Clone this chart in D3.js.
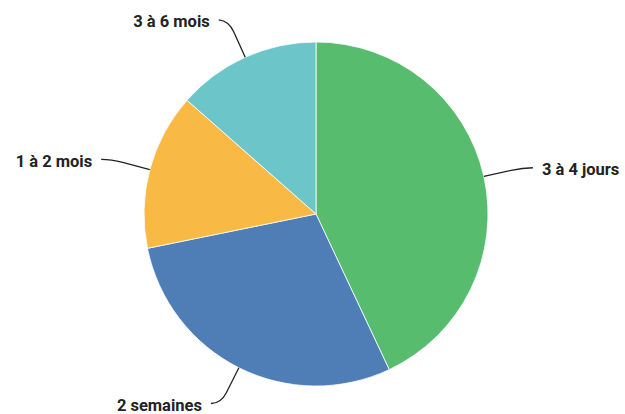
<!DOCTYPE html>
<html><head><meta charset="utf-8">
<script src="https://cdn.jsdelivr.net/npm/d3@7"></script>
<style>body{margin:0;background:#fff}svg{display:block}</style>
</head><body>
<script>
const categories = ["3 à 4 jours", "2 semaines", "1 à 2 mois", "3 à 6 mois"];
const values = [43.0, 28.8, 14.7, 13.5];
const colors = ["#58bc6f", "#4f7db5", "#f8ba44", "#6bc5c9"];

const W = 625, H = 414, cx = 316, cy = 214, R = 172;
const svg = d3.select("body").append("svg").attr("width", W).attr("height", H);
const g = svg.append("g").attr("transform", `translate(${cx},${cy})`);

const data = categories.map((c, i) => ({cat: c, value: values[i], color: colors[i]}));
const pie = d3.pie().value(d => d.value).sort(null);
const arcs = pie(data);
const arc = d3.arc().innerRadius(0).outerRadius(R);

g.selectAll("path.slice").data(arcs).join("path")
  .attr("class", "slice")
  .attr("d", arc)
  .attr("fill", d => d.data.color)
  .attr("stroke", "#fff").attr("stroke-width", 0.8);

function pt(a, r) { return [r * Math.sin(a), -r * Math.cos(a)]; }

arcs.forEach(d => {
  const a = (d.startAngle + d.endAngle) / 2;
  const side = Math.sin(a) >= 0 ? 1 : -1;
  const p0 = pt(a, R);
  const p1 = pt(a, R + 28);
  const p2 = pt(a, R + 40);
  const p3 = [p2[0] + side * 10, p2[1] - (Math.cos(a) > 0.5 ? 1 : 0)];
  g.append("path")
    .attr("d", `M${p0[0]},${p0[1]}L${p1[0]},${p1[1]}Q${p2[0]},${p2[1]} ${p3[0]},${p3[1]}`)
    .attr("fill", "none").attr("stroke", "#222").attr("stroke-width", 1.3);
  g.append("text")
    .attr("x", p3[0] + side * 9)
    .attr("y", p3[1] + 1.5)
    .attr("dy", "0.35em")
    .attr("text-anchor", side > 0 ? "start" : "end")
    .attr("font-family", "Roboto, 'Noto Sans', sans-serif")
    .attr("font-weight", 700)
    .attr("font-size", 16.5)
    .attr("fill", "#222")
    .text(d.data.cat);
});
</script>
</body></html>
